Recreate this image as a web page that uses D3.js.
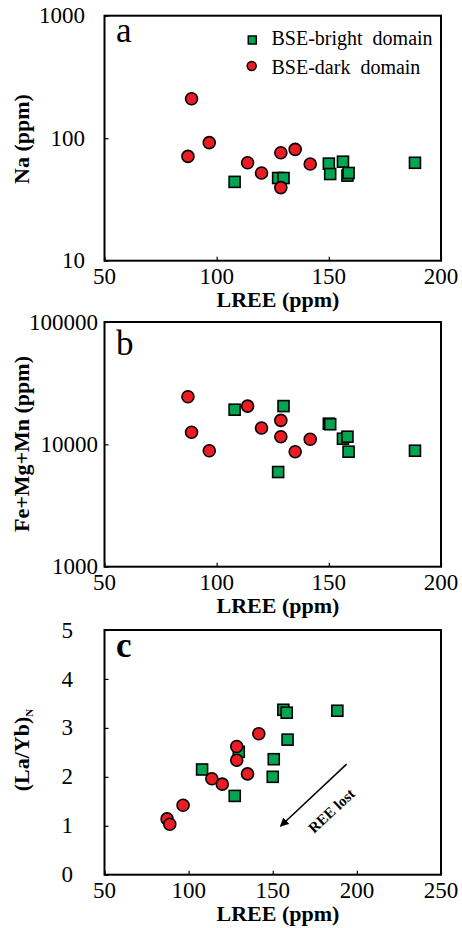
<!DOCTYPE html>
<html>
<head>
<meta charset="utf-8">
<script src="https://cdn.jsdelivr.net/npm/d3@7"></script>
<style>
  body { margin: 0; background: #fff; }
</style>
</head>
<body>
<div id="chart"></div>
<script>
let width = 462;
let height = 928;

// LREE (ppm) for each analysis spot
let brightLREE = [108, 127.4, 129.8, 150, 150.6, 156.3, 158.3, 158.8, 188.4];
let darkLREE = [87.2, 88.8, 96.7, 113.8, 120, 128.6, 128.6, 135, 141.7];

// Na (ppm)
let brightNa = [44, 47.3, 47.3, 62, 51, 64.3, 49.5, 52, 63];
let darkNa = [71, 210, 92, 63, 52, 76, 39.5, 81, 61.5];

// Fe+Mg+Mn (ppm)
let brightFeMgMn = [19200, 5940, 20550, 14750, 14600, 11120, 11550, 8710, 8870];
let darkFeMgMn = [24500, 12550, 8870, 20550, 13600, 15700, 11550, 8710, 11000];

// (La/Yb)N
let brightLaYb = [2.15, 1.61, 2.51, 2.0, 2.36, 3.37, 3.31, 2.76, 3.35];
let darkLaYb = [1.14, 1.03, 1.42, 1.96, 1.85, 2.62, 2.34, 2.06, 2.88];

let xTicksAB = [50, 100, 150, 200];
let xTicksC = [50, 100, 150, 200, 250];
let naTicks = [10, 100, 1000];
let feTicks = [1000, 10000, 100000];
let laybTicks = [0, 1, 2, 3, 4, 5];

let seriesNames = ["BSE-bright  domain", "BSE-dark  domain"];
let green = "#00a651";
let red = "#ed1c24";

let svg = d3.select("#chart")
    .append("svg")
    .attr("width", width)
    .attr("height", height)
    .attr("viewBox", [0, 0, width, height])
    .attr("font-family", "'Liberation Serif', 'DejaVu Serif', serif");

let left = 104.5, right = 441;

function panel(p) {
    let x = d3.scaleLinear().domain(p.xDomain).range([left, right]);
    let y = (p.log ? d3.scaleLog() : d3.scaleLinear()).domain(p.yDomain).range([p.bottom, p.top]);
    let g = svg.append("g");

    // ticks inside the frame
    g.append("g")
        .attr("transform", `translate(0,${p.bottom})`)
        .call(d3.axisTop(x).tickValues(p.xTicks).tickSize(4).tickFormat(""))
        .call(g => g.select(".domain").remove())
        .call(g => g.selectAll("line").attr("stroke", "#000").attr("stroke-width", 1.2));
    g.append("g")
        .attr("transform", `translate(${left},0)`)
        .call(d3.axisRight(y).tickValues(p.yTicks).tickSize(4).tickFormat(""))
        .call(g => g.select(".domain").remove())
        .call(g => g.selectAll("line").attr("stroke", "#000").attr("stroke-width", 1.2));

    // tick labels
    g.append("g")
        .selectAll("text")
        .data(p.xTicks)
        .join("text")
        .attr("x", d => x(d))
        .attr("y", p.bottom + 23)
        .attr("text-anchor", "middle")
        .attr("font-size", 23)
        .text(d => d);
    g.append("g")
        .selectAll("text")
        .data(p.yTicks)
        .join("text")
        .attr("x", p.yLabelEnd)
        .attr("y", d => y(d))
        .attr("dy", "0.33em")
        .attr("text-anchor", "end")
        .attr("font-size", 23)
        .text(d => d);

    // frame
    g.append("rect")
        .attr("x", left)
        .attr("y", p.top)
        .attr("width", right - left)
        .attr("height", p.bottom - p.top)
        .attr("fill", "none")
        .attr("stroke", "#000")
        .attr("stroke-width", 2);

    // axis titles
    g.append("text")
        .attr("x", 278)
        .attr("y", p.bottom + 46)
        .attr("text-anchor", "middle")
        .attr("font-size", 22)
        .attr("font-weight", "bold")
        .text("LREE (ppm)");
    let yt = g.append("text")
        .attr("transform", `translate(29,${p.yTitleY}) rotate(-90)`)
        .attr("text-anchor", "middle")
        .attr("font-size", 22)
        .attr("font-weight", "bold");
    yt.append("tspan").text(p.yTitle);
    if (p.yTitleSub) yt.append("tspan").attr("font-size", 11).attr("dy", 4).text(p.yTitleSub);

    // panel letter
    g.append("text")
        .attr("x", 116)
        .attr("y", p.letterY)
        .attr("font-size", 35)
        .attr("font-weight", p.letterBold ? "bold" : "normal")
        .text(p.letter);

    // points
    g.append("g")
        .selectAll("rect")
        .data(brightLREE.map((v, i) => [v, p.bright[i]]))
        .join("rect")
        .attr("x", d => x(d[0]) - 5.5)
        .attr("y", d => y(d[1]) - 5.5)
        .attr("width", 11)
        .attr("height", 11)
        .attr("fill", green)
        .attr("stroke", "#000")
        .attr("stroke-width", 1.6);
    g.append("g")
        .selectAll("circle")
        .data(darkLREE.map((v, i) => [v, p.dark[i]]))
        .join("circle")
        .attr("cx", d => x(d[0]))
        .attr("cy", d => y(d[1]))
        .attr("r", 6)
        .attr("fill", red)
        .attr("stroke", "#000")
        .attr("stroke-width", 1.6);

    return {g, x, y};
}

let a = panel({
    top: 15.7, bottom: 260.7, xDomain: [50, 200], yDomain: [10, 1000], log: true,
    xTicks: xTicksAB, yTicks: naTicks, yLabelEnd: 85, yTitle: "Na (ppm)", yTitleY: 139,
    letter: "a", letterY: 41.7, bright: brightNa, dark: darkNa
});
panel({
    top: 322, bottom: 566.7, xDomain: [50, 200], yDomain: [1000, 100000], log: true,
    xTicks: xTicksAB, yTicks: feTicks, yLabelEnd: 98, yTitle: "Fe+Mg+Mn (ppm)", yTitleY: 444,
    letter: "b", letterY: 355, bright: brightFeMgMn, dark: darkFeMgMn
});
let c = panel({
    top: 630, bottom: 874.7, xDomain: [50, 250], yDomain: [0, 5], log: false,
    xTicks: xTicksC, yTicks: laybTicks, yLabelEnd: 73, yTitle: "(La/Yb)", yTitleSub: "N", yTitleY: 750,
    letter: "c", letterY: 656.7, letterBold: true, bright: brightLaYb, dark: darkLaYb
});

// legend in panel a
let legend = a.g.append("g").attr("font-size", 20);
legend.append("rect")
    .attr("x", 248.3).attr("y", 36).attr("width", 8).attr("height", 8)
    .attr("fill", green).attr("stroke", "#000").attr("stroke-width", 1.5);
legend.append("circle")
    .attr("cx", 251.7).attr("cy", 66).attr("r", 4.5)
    .attr("fill", red).attr("stroke", "#000").attr("stroke-width", 1.5);
legend.selectAll("text.lbl")
    .data(seriesNames)
    .join("text")
    .attr("class", "lbl")
    .attr("x", 271.5)
    .attr("y", (d, i) => 45 + i * 28.5)
    .style("white-space", "pre")
    .text(d => d);

// arrow in panel c
svg.append("defs").append("marker")
    .attr("id", "head")
    .attr("viewBox", "0 0 10 10")
    .attr("refX", 9).attr("refY", 5)
    .attr("markerWidth", 9).attr("markerHeight", 9)
    .attr("markerUnits", "userSpaceOnUse")
    .attr("orient", "auto")
    .append("path")
    .attr("d", "M0,0 L10,5 L0,10 Z")
    .attr("fill", "#000");
let arrowFrom = [193.9, 2.26], arrowTo = [154.6, 0.99];
c.g.append("line")
    .attr("x1", c.x(arrowFrom[0])).attr("y1", c.y(arrowFrom[1]))
    .attr("x2", c.x(arrowTo[0])).attr("y2", c.y(arrowTo[1]))
    .attr("stroke", "#000")
    .attr("stroke-width", 1.5)
    .attr("marker-end", "url(#head)");
c.g.append("text")
    .attr("transform", `translate(${c.x(187)},${c.y(1.23)}) rotate(-43)`)
    .attr("text-anchor", "middle")
    .attr("font-size", 15)
    .attr("font-weight", "bold")
    .text("REE lost");
</script>
</body>
</html>
